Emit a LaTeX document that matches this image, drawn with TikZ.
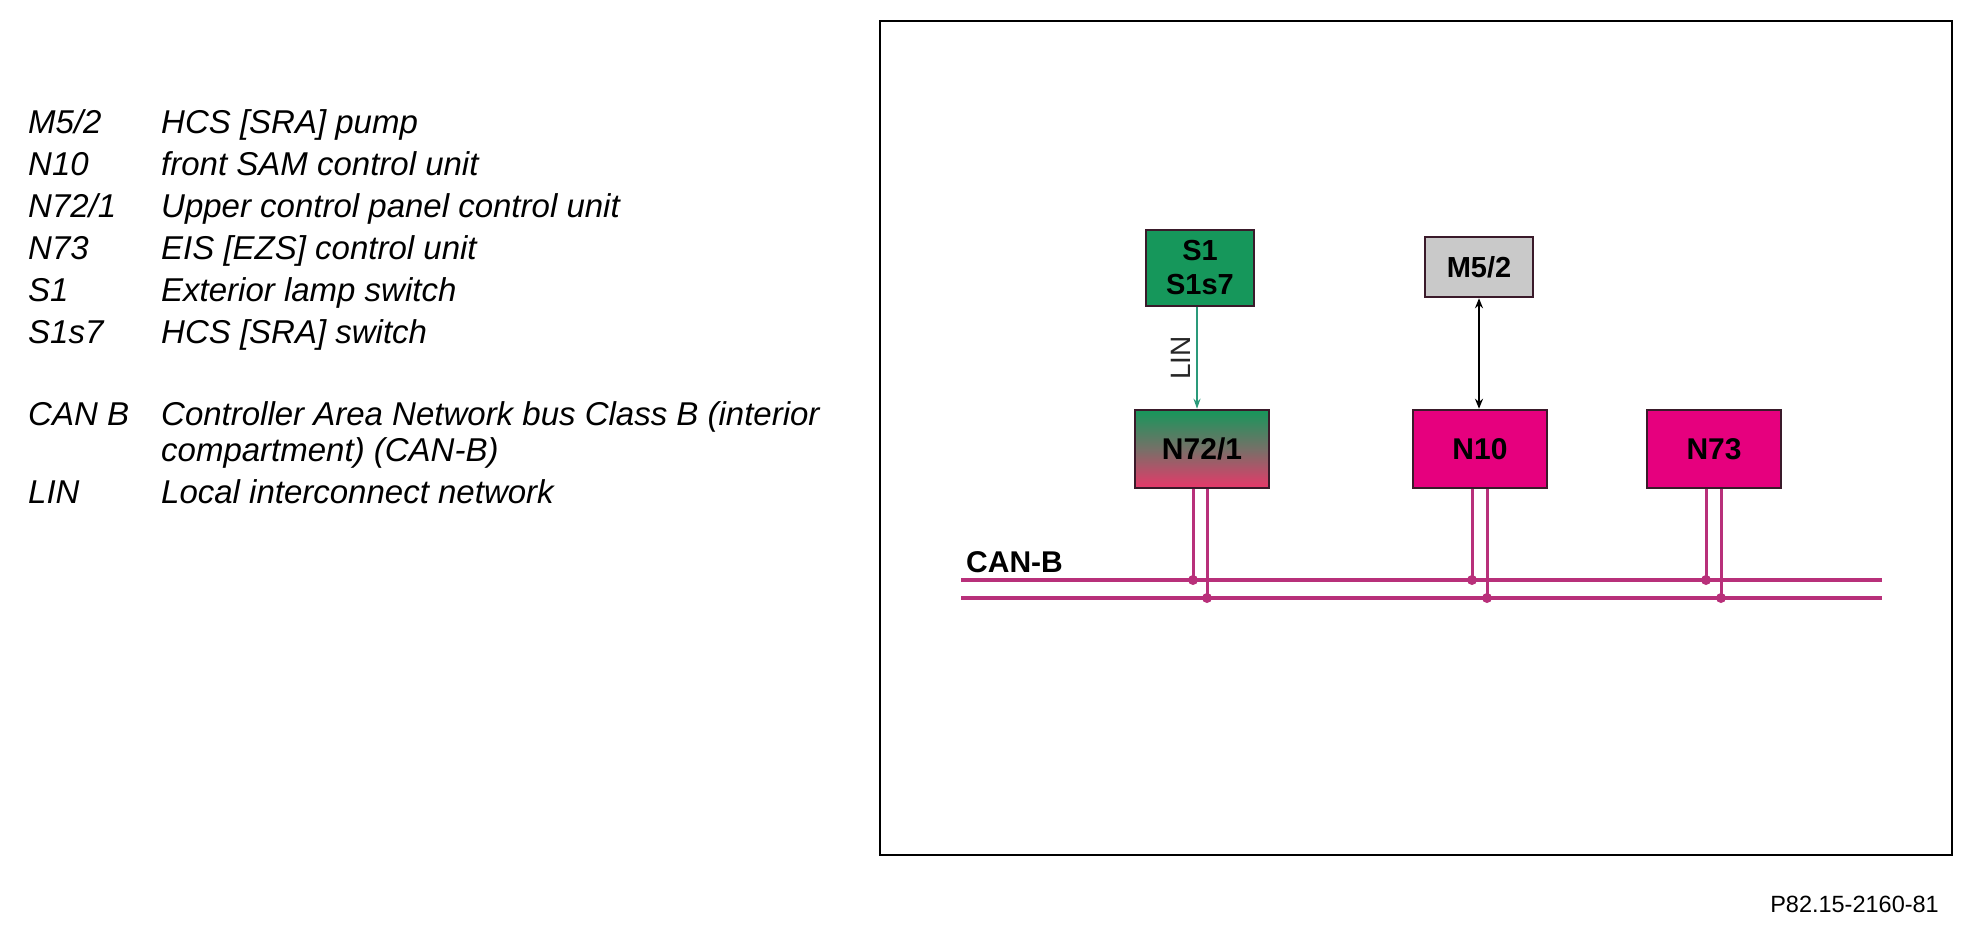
\documentclass[tikz,border=0pt]{standalone}
\usepackage{fontspec}
\setmainfont{Liberation Sans}
\usetikzlibrary{arrows.meta}
\definecolor{swgreen}{HTML}{16975B}
\definecolor{gradbot}{HTML}{E8386A}
\definecolor{ecupink}{HTML}{E6007E}
\definecolor{pumpgray}{HTML}{C9C9C9}
\definecolor{boxedge}{HTML}{3A1A2A}
\definecolor{busline}{HTML}{B8307A}
\definecolor{linteal}{HTML}{2A9A7A}
\begin{document}
\begin{tikzpicture}[x=1pt,y=-1pt,
  legend/.style={anchor=base west, inner sep=0pt, font=\fontsize{33}{38}\selectfont\itshape},
  unitbox/.style={draw=boxedge, line width=2.5pt, minimum width=134pt, minimum height=78pt, inner sep=0pt,
    font=\fontsize{30}{34}\selectfont\bfseries},
  smallbox/.style={draw=boxedge, line width=2.5pt, minimum width=108pt, inner sep=0pt,
    font=\fontsize{29}{34}\selectfont\bfseries, align=center},
  bus/.style={draw=busline, line width=4pt},
  junc/.style={circle, fill=busline, inner sep=0pt, minimum size=10pt}
]
\useasboundingbox (0,0) rectangle (1968,932);

% legend
\node[legend] (l1a) at (28,133) {M5/2};
\node[legend] (l1b) at (161,133) {HCS [SRA] pump};
\node[legend] (l2a) at (28,175) {N10};
\node[legend] (l2b) at (161,175) {front SAM control unit};
\node[legend] (l3a) at (28,217) {N72/1};
\node[legend] (l3b) at (161,217) {Upper control panel control unit};
\node[legend] (l4a) at (28,259) {N73};
\node[legend] (l4b) at (161,259) {EIS [EZS] control unit};
\node[legend] (l5a) at (28,301) {S1};
\node[legend] (l5b) at (161,301) {Exterior lamp switch};
\node[legend] (l6a) at (28,343) {S1s7};
\node[legend] (l6b) at (161,343) {HCS [SRA] switch};
\node[legend] (l7a) at (28,425) {CAN B};
\node[legend] (l7b) at (161,425) {Controller Area Network bus Class B (interior};
\node[legend] (l7c) at (161,461) {compartment) (CAN-B)};
\node[legend] (l8a) at (28,503) {LIN};
\node[legend] (l8b) at (161,503) {Local interconnect network};

% frame
\draw[line width=2pt] (880,21) rectangle (1952,855);

% boxes
\node[smallbox, fill=swgreen, minimum height=76pt] (s1) at (1200,268) {S1\\[0pt]S1s7};
\node[smallbox, fill=pumpgray, minimum height=60pt] (m52) at (1479,267) {M5/2};
\node[unitbox, top color=swgreen, bottom color=gradbot, middle color=gradbot!45!swgreen!80!gray] (n72) at (1202,449) {N72/1};
\node[unitbox, fill=ecupink] (n10) at (1480,449) {N10};
\node[unitbox, fill=ecupink] (n73) at (1714,449) {N73};

% connections
\draw[linteal, line width=1.5pt, -{Stealth[length=10pt,width=7pt]}] ([xshift=-3pt]s1.south) -- ([xshift=-3pt]s1.south |- n72.north)
  node[midway, left=2pt, rotate=90, anchor=south, black!85, font=\fontsize{28}{32}\selectfont] (lin) {LIN};
\draw[black, line width=2pt, {Stealth[length=10pt,width=8pt]}-{Stealth[length=10pt,width=8pt]}] (m52.south) -- (m52.south |- n10.north);

% bus
\coordinate (bl1) at (961,580);
\coordinate (br1) at (1882,580);
\coordinate (bl2) at (961,598);
\coordinate (br2) at (1882,598);
\draw[bus] (bl1) -- (br1);
\draw[bus] (bl2) -- (br2);
\node[anchor=base west, inner sep=0pt, font=\fontsize{30}{34}\selectfont\bfseries] (canb) at (966,572) {CAN-B};

\foreach \n/\a/\b in {n72/-9/5, n10/-8/7, n73/-8/7}{
  \draw[bus, line width=3pt] ([xshift=\a pt]\n.south) -- ([xshift=\a pt]\n.south |- bl1) node[junc] {};
  \draw[bus, line width=3pt] ([xshift=\b pt]\n.south) -- ([xshift=\b pt]\n.south |- bl2) node[junc] {};
}

% figure reference
\node[anchor=base east, inner sep=0pt, font=\fontsize{23.5}{28}\selectfont] (ref) at (1939,912) {P82.15-2160-81};
\end{tikzpicture}
\end{document}
